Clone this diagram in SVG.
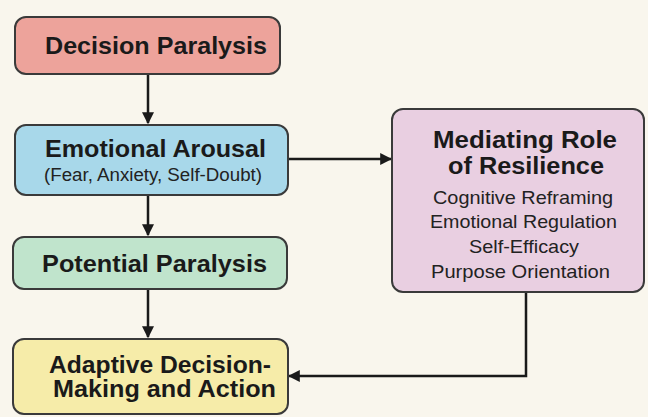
<svg xmlns="http://www.w3.org/2000/svg" width="648" height="417" viewBox="0 0 648 417">
<defs>
<marker id="ah" viewBox="0 0 10 10" refX="9" refY="5" markerWidth="12" markerHeight="12" markerUnits="userSpaceOnUse" orient="auto"><path d="M0,0 L10,5 L0,10 z" fill="#1a1a1a"/></marker>
<style>
.box{stroke:#3a3a3a;stroke-width:2}
.t{font-family:"Liberation Sans",Arial,sans-serif;font-weight:bold;fill:#1a1a1a;text-anchor:middle}
.s{font-family:"Liberation Sans",Arial,sans-serif;fill:#222;text-anchor:middle}
.c{stroke:#1a1a1a;stroke-width:2.5;fill:none}
</style>
</defs>
<rect width="648" height="417" fill="#f9f6ed"/>
<g id="connectors">
<line class="c" x1="148" y1="74" x2="148" y2="123" marker-end="url(#ah)"/>
<line class="c" x1="148" y1="195" x2="148" y2="235" marker-end="url(#ah)"/>
<line class="c" x1="148" y1="289" x2="148" y2="337" marker-end="url(#ah)"/>
<line class="c" x1="288" y1="159" x2="391" y2="159" marker-end="url(#ah)"/>
<polyline class="c" points="526,292 526,376 289,376" marker-end="url(#ah)"/>
</g>
<g id="decision-paralysis">
<rect class="box" x="15" y="17" width="265" height="57" rx="11" fill="#eda39b"/>
<text class="t" x="156" y="54" font-size="24" textLength="222" lengthAdjust="spacingAndGlyphs">Decision Paralysis</text>
</g>
<g id="emotional-arousal">
<rect class="box" x="15" y="125" width="273" height="70" rx="11" fill="#a8d8ea"/>
<text class="t" x="155.5" y="157" font-size="24" textLength="221" lengthAdjust="spacingAndGlyphs">Emotional Arousal</text>
<text class="s" x="153" y="181" font-size="17.5" textLength="218" lengthAdjust="spacingAndGlyphs">(Fear, Anxiety, Self-Doubt)</text>
</g>
<g id="potential-paralysis">
<rect class="box" x="13" y="237" width="274" height="52" rx="11" fill="#c0e4cc"/>
<text class="t" x="154.5" y="272" font-size="24" textLength="225" lengthAdjust="spacingAndGlyphs">Potential Paralysis</text>
</g>
<g id="adaptive-decision">
<rect class="box" x="13" y="339" width="275" height="75" rx="11" fill="#f6eca9"/>
<text class="t" x="160" y="373" font-size="23" textLength="222" lengthAdjust="spacingAndGlyphs">Adaptive Decision-</text>
<text class="t" x="164.5" y="397" font-size="23" textLength="223" lengthAdjust="spacingAndGlyphs">Making and Action</text>
</g>
<g id="mediating-role">
<rect class="box" x="392" y="109" width="252" height="183" rx="11" fill="#e9cfe1"/>
<text class="t" x="525" y="148" font-size="23" textLength="184" lengthAdjust="spacingAndGlyphs">Mediating Role</text>
<text class="t" x="526" y="174" font-size="23" textLength="156" lengthAdjust="spacingAndGlyphs">of Resilience</text>
<text class="s" x="523" y="204" font-size="18.5" textLength="180" lengthAdjust="spacingAndGlyphs">Cognitive Reframing</text>
<text class="s" x="523.5" y="228" font-size="18.5" textLength="187" lengthAdjust="spacingAndGlyphs">Emotional Regulation</text>
<text class="s" x="524" y="253" font-size="18.5" textLength="110" lengthAdjust="spacingAndGlyphs">Self-Efficacy</text>
<text class="s" x="520.5" y="278" font-size="18.5" textLength="179" lengthAdjust="spacingAndGlyphs">Purpose Orientation</text>
</g>
</svg>
